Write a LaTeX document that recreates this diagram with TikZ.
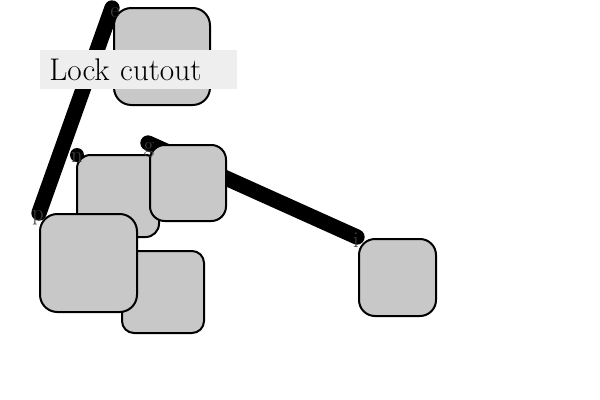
\documentclass[tikz,border=0pt]{standalone}
\definecolor{boxfill}{HTML}{C8C8C8}
\definecolor{labfill}{HTML}{EEEEEE}
\definecolor{tagcol}{HTML}{404040}
\tikzset{
  sq/.style={draw=black, fill=boxfill, line width=1.5pt, anchor=north west, inner sep=0pt},
  conn/.style={line width=11.5pt, line cap=round, draw=black},
  tag/.style={text=tagcol, font=\fontsize{17pt}{17pt}\selectfont, inner sep=0pt},
}
\begin{document}
\begin{tikzpicture}[x=0.75pt,y=-0.75pt]
\useasboundingbox (0,0) rectangle (600,400);
\coordinate (ce) at (112,8);
\coordinate (cp) at (39,213);
\coordinate (cg) at (148,143);
\coordinate (ci) at (357,237);
\coordinate (cn) at (77,155);
\draw[conn] (ce) -- (cp);
\draw[conn] (cg) -- (ci);
\fill[black] (cn) circle (7);
\node[sq, minimum width=72pt, minimum height=72.75pt, rounded corners=13pt] (e) at (113,7) {};
\node[sq, minimum width=61.5pt, minimum height=61.5pt, rounded corners=10pt] (n) at (76,154) {};
\node[sq, minimum width=61.5pt, minimum height=61.5pt, rounded corners=9pt] (l) at (121,250) {};
\node[sq, minimum width=57pt, minimum height=57pt, rounded corners=11pt] (g) at (149,144) {};
\node[sq, minimum width=72.75pt, minimum height=73.5pt, rounded corners=13pt] (p) at (39,213) {};
\node[sq, minimum width=57.75pt, minimum height=57.75pt, rounded corners=12pt] (i) at (358,238) {};
\node[tag] (te) at (115,13) {e};
\node[tag] (tn) at (77,158) {n};
\node[tag] (tg) at (149,150) {g};
\node[tag] (tp) at (38,218) {p};
\node[tag] (ti) at (356,240) {i};
\node[fill=labfill, anchor=north west, inner xsep=6.75pt, inner ysep=0pt,
      minimum height=29.25pt, text width=134.25pt, align=left,
      font=\fontsize{23.5}{26}\selectfont] (lock) at (40,50) {Lock cutout};
\end{tikzpicture}
\end{document}
